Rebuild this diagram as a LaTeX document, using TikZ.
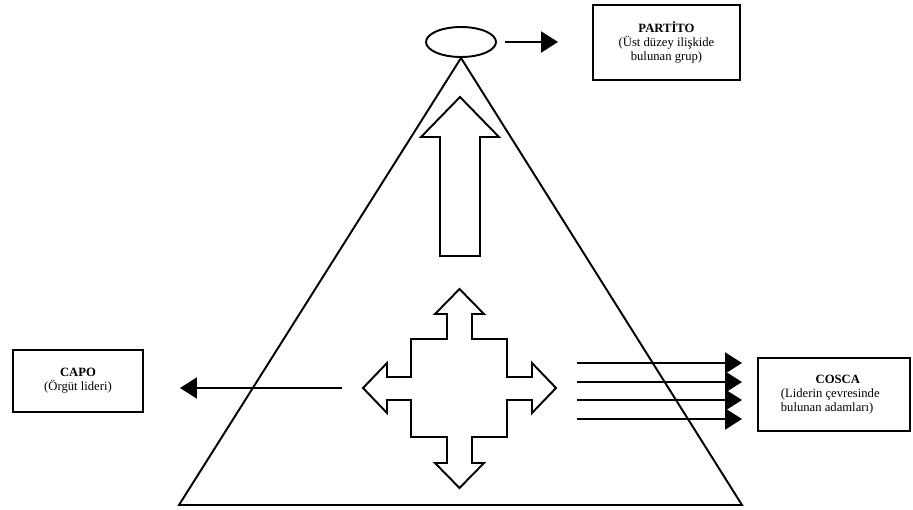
\documentclass[tikz,border=0pt]{standalone}
\usepackage{fontspec}
\setmainfont{Liberation Serif}
\usetikzlibrary{arrows.meta,shapes.geometric}
\begin{document}
\begin{tikzpicture}[x=0.02cm,y=-0.02cm,
  line width=1.1pt, line join=miter,
  labelbox/.style={draw, line width=1.5pt, inner sep=0pt, align=center,
    font=\fontsize{7.2}{7.9}\selectfont},
  conn/.style={-{Triangle[length=0.34cm,width=0.42cm]}, line width=1.3pt}]
\useasboundingbox (0,0) rectangle (913,510);
% top ellipse
\node[draw, ellipse, minimum width=1.4cm, minimum height=0.6cm, inner sep=0pt] (head) at (461,42) {};
% triangle
\coordinate (bl) at (179,505);
\coordinate (br) at (742,505);
\draw (head.south) -- (bl) -- (br) -- cycle;
% boxes
\node[labelbox, minimum width=2.94cm, minimum height=1.5cm] (partito) at (666.5,42.5)
  {\textbf{PARTİTO}\\(Üst düzey ilişkide\\bulunan grup)};
\node[labelbox, minimum width=2.6cm, minimum height=1.24cm] (capo) at (78,381)
  {\textbf{CAPO}\\(Örgüt lideri)};
\node[labelbox, minimum width=3.04cm, minimum height=1.46cm] (cosca) at (834,394.5)
  {\hspace*{-0.15cm}\begin{tabular}{@{}l@{}}\multicolumn{1}{@{}c@{}}{\hspace*{0.3cm}\textbf{COSCA}}\\(Liderin çevresinde\\bulunan adamları)\end{tabular}};
% arrows
\coordinate (e1) at (505,42);
\coordinate (e2) at (558,42);
\draw[conn] (e1) -- (e2);
\coordinate (l1) at (342,388);
\coordinate (l2) at (180,388);
\draw[conn] (l1) -- (l2);
\foreach \y [count=\i] in {363,382,400,419} {
  \coordinate (r\i a) at (577,\y);
  \coordinate (r\i b) at (742,\y);
  \draw[conn] (r\i a) -- (r\i b);
}
% big up arrow
\draw (460,97) -- (499,137) -- (480,137) -- (480,256) -- (440,256) -- (440,137) -- (421,137) -- cycle;
% four-way arrow
\draw (459.5,289) -- (484,314) -- (472,314) -- (472,339) -- (507,339) -- (507,377)
  -- (532,377) -- (532,363) -- (556,388) -- (532,413) -- (532,400) -- (507,400)
  -- (507,437) -- (472,437) -- (472,463) -- (484,463) -- (459.5,488) -- (435,463)
  -- (447,463) -- (447,437) -- (411,437) -- (411,400) -- (387,400) -- (387,413)
  -- (363,388) -- (387,363) -- (387,377) -- (411,377) -- (411,339) -- (447,339)
  -- (447,314) -- (435,314) -- cycle;
\end{tikzpicture}
\end{document}
